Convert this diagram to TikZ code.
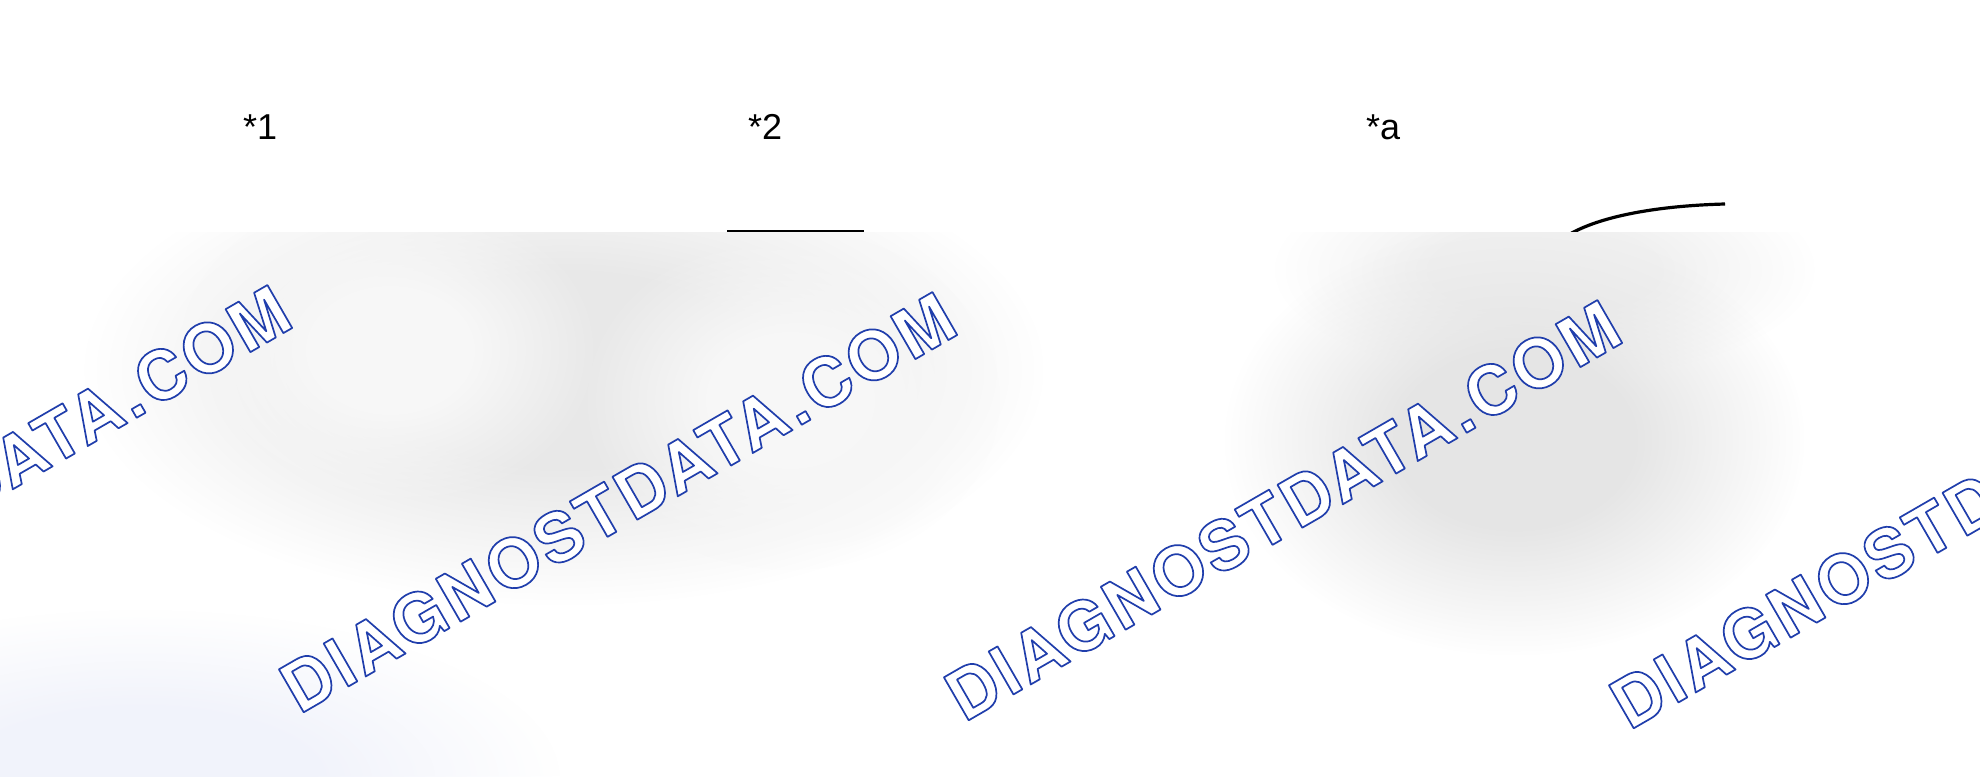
\documentclass[tikz,border=0pt]{standalone}
\usepackage{fontspec}
\setmainfont{Liberation Sans}
\newfontfamily\wmfont[LetterSpace=5.2]{texgyreheros-bold.otf}
\usetikzlibrary{fadings}
\pgfdeclareradialshading{plateaushade}{\pgfpointorigin}{color(0bp)=(white); color(10bp)=(white); color(25bp)=(black); color(50bp)=(black)}
\pgfdeclarefading{plateau}{\pgfuseshading{plateaushade}}
\definecolor{wmblue}{RGB}{32,62,172}
\definecolor{lavender}{RGB}{241,243,251}
\newcommand\wmtext{\special{pdf:literal 2 Tr 1.7 w 1 j 1 1 1 rg}DIAGNOSTDATA.COM\special{pdf:literal 0 Tr}}
\tikzset{
  lab/.style={inner sep=0pt, anchor=base west, font=\fontsize{36}{40}\selectfont},
  wm/.style={inner sep=0pt, anchor=base west, rotate=30, text=wmblue,
    font=\wmfont\fontsize{68}{70}\selectfont},
  blob/.style={path fading=plateau, fit fading=true},
  rule/.style={line width=2pt, black},
  arcline/.style={line width=3.2pt, black}
}
\begin{document}
\begin{tikzpicture}[x=1pt,y=-1pt]
\useasboundingbox (0,0) rectangle (1980,776);
\fill[white] (0,0) rectangle (1980,776);
% labels
\node[lab] (l1) at (243,139) {*1};
\node[lab] (l2) at (748,139) {*2};
\node[lab] (la) at (1366,139) {*a};
% line under *2
\coordinate (uA) at (727,230.5);
\coordinate (uB) at (864,230.5);
\draw[rule] (uA) -- (uB);
% curve
\coordinate (cA) at (1570,234);
\coordinate (cB) at (1725,204);
\draw[arcline] (cA) .. controls (1598,218) and (1650,206) .. (cB);
% blurred overlay
\begin{scope}
\clip (0,232) rectangle (1980,776);
\fill[white] (0,232) rectangle (1980,776);
\fill[lavender, blob] (140,780) ellipse [x radius=420, y radius=170];
\fill[black!9, blob] (565,370) ellipse [x radius=480, y radius=235];
\fill[black!3, blob] (390,350) ellipse [x radius=210, y radius=160];
\fill[black!3, blob] (790,400) ellipse [x radius=210, y radius=170];
\fill[black!6, blob] (1545,270) ellipse [x radius=270, y radius=110];
\fill[black!10, blob] (1515,440) ellipse [x radius=290, y radius=215];
% watermarks
\node[wm] (w0) at (-366,708) {\wmtext};
\node[wm] (w1) at (299,715) {\wmtext};
\node[wm] (w2) at (964,723) {\wmtext};
\node[wm] (w3) at (1629,731) {\wmtext};
\end{scope}
\end{tikzpicture}
\end{document}
